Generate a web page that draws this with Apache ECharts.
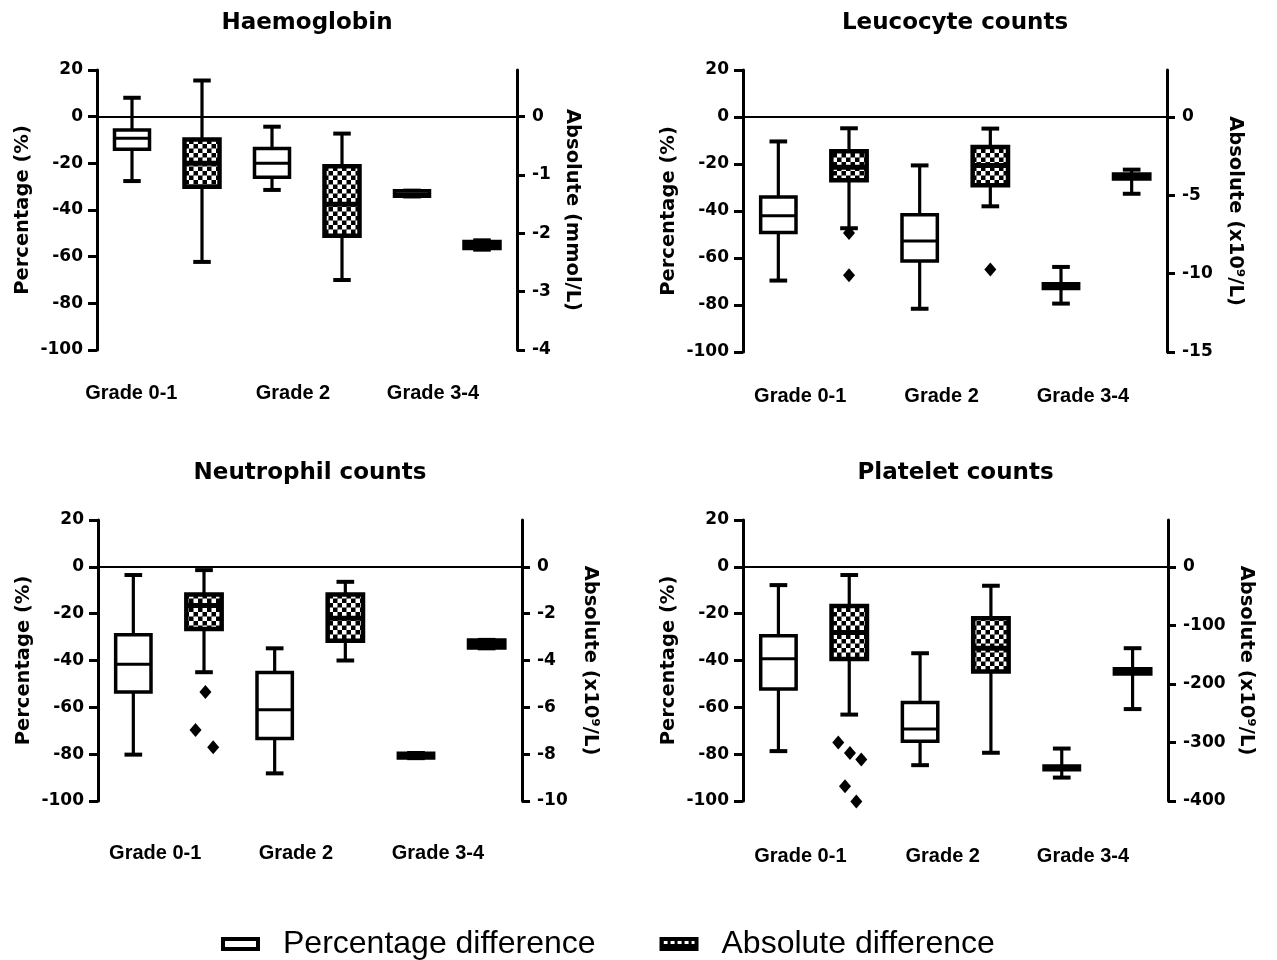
<!DOCTYPE html>
<html>
<head>
<meta charset="utf-8">
<title>Blood count differences</title>
<script src="https://cdn.jsdelivr.net/npm/echarts@6.0.0/dist/echarts.min.js"></script>
<style>
  html, body { margin: 0; padding: 0; background: #fff; }
  #container { width: 1277px; height: 960px; }
</style>
</head>
<body>
<div id="container"></div>
<script>
var grades = ['Grade 0-1', 'Grade 2', 'Grade 3-4'];
var pctName = 'Percentage difference';
var absName = 'Absolute difference';
var pctTicks = [-100, -80, -60, -40, -20, 0, 20];

// box data per grade: [min, Q1, median, Q3, max]
var hbPct = [[-27.6, -14, -9.3, -5.7, 8.1], [-31.4, -26, -20, -13.6, -4.3], [-34.2, -34.1, -33, -31.8, -31.7]];
var hbAbs = [[-2.49, -1.2, -0.8, -0.39, 0.62], [-2.8, -2.04, -1.5, -0.85, -0.29], [-2.28, -2.25, -2.2, -2.15, -2.12]];
var hbAbsTicks = [-4, -3, -2, -1, 0];

var lcPct = [[-69.6, -49.2, -42, -34, -10.4], [-81.6, -61.3, -52.8, -41.6, -20.6], [-79.4, -73, -72, -71, -63.8]];
var lcAbs = [[-7.1, -4.03, -3.2, -2.18, -0.72], [-5.7, -4.36, -3.1, -1.91, -0.74], [-4.9, -3.92, -3.8, -3.67, -3.36]];
var lcAbsTicks = [-15, -10, -5, 0];

var ntPct = [[-80.2, -53.5, -41.6, -29, -3.5], [-88.2, -73.3, -61, -45.1, -34.8], [-81.7, -81.6, -80.6, -79.6, -79.5]];
var ntAbs = [[-4.5, -2.65, -1.65, -1.18, -0.14], [-4.0, -3.16, -2.2, -1.18, -0.64], [-3.48, -3.45, -3.3, -3.15, -3.12]];
var ntAbsTicks = [-10, -8, -6, -4, -2, 0];

var plPct = [[-78.7, -52.2, -39.3, -29.4, -7.8], [-84.7, -74.5, -69.2, -57.9, -36.9], [-90, -86.7, -85.8, -85, -77.6]];
var plAbs = [[-252.4, -157.5, -112, -67, -14], [-317.6, -178.7, -139, -88, -32.3], [-243, -182, -179, -175, -139]];
var plAbsTicks = [-400, -300, -200, -100, 0];

// outliers of the absolute series: [grade index, value, horizontal jitter]
var lcOutliers = [[0, -7.4, 0], [0, -10.1, 0], [1, -9.74, 0]];
var ntOutliers = [[0, -5.35, 0.02], [0, -6.97, -0.12], [0, -7.7, 0.13]];
var plOutliers = [[0, -300, -0.155], [0, -318, 0.01], [0, -329, 0.17], [0, -375, -0.06], [0, -401, 0.1]];

var FONT = 'DejaVu Sans';

function checker(size, sq) {
  var c = document.createElement('canvas');
  c.width = size; c.height = size;
  var ctx = c.getContext('2d');
  ctx.fillStyle = '#000';
  ctx.fillRect(0, 0, size, size);
  ctx.fillStyle = '#fff';
  ctx.fillRect(0, 0, sq, sq);
  ctx.fillRect(sq, sq, sq, sq);
  return { type: 'pattern', image: c, repeat: 'repeat' };
}
var boxPattern = checker(9, 4.5);
var legendPattern = (function () {
  var c = document.createElement('canvas');
  c.width = 7; c.height = 8;
  var ctx = c.getContext('2d');
  ctx.fillStyle = '#000';
  ctx.fillRect(0, 0, 7, 8);
  ctx.fillStyle = '#fff';
  ctx.fillRect(2, 2, 4, 3);
  return { type: 'pattern', image: c, repeat: 'repeat' };
})();

var panels = [
  { title: 'Haemoglobin', pct: hbPct, abs: hbAbs, out: [], absTicks: hbAbsTicks, absMin: -4, absMax: 0.8,
    absAxis: 'Absolute (mmol/L)', grid: [97, 70, 420, 280], labelAt: [0.49, 2.8, 4.8], labelMargin: 33,
    leftGap: 64, rightGap: 45, titleTop: 12 },
  { title: 'Leucocyte counts', pct: lcPct, abs: lcAbs, out: lcOutliers, absTicks: lcAbsTicks, absMin: -15, absMax: 3,
    absAxis: 'Absolute (x10\u2079/L)', grid: [743, 70, 424, 282], labelAt: [0.81, 2.81, 4.81], labelMargin: 34,
    leftGap: 64, rightGap: 58, titleTop: 12 },
  { title: 'Neutrophil counts', pct: ntPct, abs: ntAbs, out: ntOutliers, absTicks: ntAbsTicks, absMin: -10, absMax: 2,
    absAxis: 'Absolute (x10\u2079/L)', grid: [98, 520, 424, 281], labelAt: [0.81, 2.8, 4.81], labelMargin: 42,
    leftGap: 64, rightGap: 58, titleTop: 462 },
  { title: 'Platelet counts', pct: plPct, abs: plAbs, out: plOutliers, absTicks: plAbsTicks, absMin: -400, absMax: 80,
    absAxis: 'Absolute (x10\u2079/L)', grid: [743, 520, 425, 281], labelAt: [0.81, 2.82, 4.8], labelMargin: 45,
    leftGap: 64, rightGap: 68, titleTop: 462 }
];

function boxRender(fill, border, medianWidth) {
  return function (params, api) {
    var x = api.value(0);
    var pMin = api.coord([x, api.value(1)]);
    var pQ1 = api.coord([x, api.value(2)]);
    var pMed = api.coord([x, api.value(3)]);
    var pQ3 = api.coord([x, api.value(4)]);
    var pMax = api.coord([x, api.value(5)]);
    var unit = api.size([1, 0])[0];
    var hb = unit * 0.25, hc = unit * 0.125;
    var cx = pMed[0];
    var cap = { stroke: '#000', lineWidth: 4 };
    return {
      type: 'group',
      children: [
        { type: 'line', shape: { x1: cx, y1: pMax[1], x2: cx, y2: pMin[1] }, style: { stroke: '#000', lineWidth: 3.2 } },
        { type: 'line', shape: { x1: cx - hc, y1: pMax[1], x2: cx + hc, y2: pMax[1] }, style: cap },
        { type: 'line', shape: { x1: cx - hc, y1: pMin[1], x2: cx + hc, y2: pMin[1] }, style: cap },
        { type: 'rect', shape: { x: cx - hb, y: pQ3[1], width: 2 * hb, height: pQ1[1] - pQ3[1] },
          style: { fill: fill, stroke: '#000', lineWidth: border } },
        { type: 'line', shape: { x1: cx - hb, y1: pMed[1], x2: cx + hb, y2: pMed[1] }, style: { stroke: '#000', lineWidth: medianWidth } }
      ]
    };
  };
}

var option = {
  backgroundColor: '#fff',
  animation: false,
  title: [],
  grid: [],
  xAxis: [],
  yAxis: [],
  series: [],
  legend: {
    left: 216,
    top: 923,
    itemWidth: 35,
    itemHeight: 10,
    itemGap: 64,
    selectedMode: false,
    textStyle: { fontFamily: 'Liberation Sans', fontSize: 32, color: '#000', padding: [0, 0, 0, 20] },
    data: [
      { name: pctName, icon: 'rect', itemStyle: { color: '#fff', borderColor: '#000', borderWidth: 4 } },
      { name: absName, icon: 'rect', itemStyle: { color: legendPattern, borderColor: '#000', borderWidth: 4 } }
    ]
  }
};

panels.forEach(function (p, i) {
  var g = p.grid;
  option.title.push({
    text: p.title,
    left: g[0] + g[2] / 2,
    top: p.titleTop,
    textAlign: 'center',
    padding: 0,
    textStyle: { fontFamily: FONT, fontWeight: 'bold', fontSize: 23, color: '#000' }
  });
  option.grid.push({ left: g[0], top: g[1], width: g[2], height: g[3], outerBoundsMode: 'none' });
  option.xAxis.push({
    gridIndex: i, type: 'value', min: 0, max: 6,
    axisLine: { show: false, onZero: false },
    axisTick: { show: false },
    splitLine: { show: false },
    axisLabel: {
      customValues: p.labelAt,
      margin: p.labelMargin,
      fontFamily: 'Liberation Sans', fontWeight: 'bold', fontSize: 20, color: '#000',
      formatter: function (v) {
        var best = 0;
        p.labelAt.forEach(function (a, k) { if (Math.abs(a - v) < Math.abs(p.labelAt[best] - v)) best = k; });
        return grades[best];
      }
    }
  });
  option.yAxis.push({
    gridIndex: i, type: 'value', position: 'left', min: -100, max: 20, interval: 20,
    name: 'Percentage (%)', nameLocation: 'middle', nameGap: p.leftGap,
    nameTextStyle: { fontFamily: FONT, fontWeight: 'bold', fontSize: 19.5, color: '#000' },
    axisLine: { show: true, onZero: false, lineStyle: { color: '#000', width: 3 } },
    axisTick: { show: true, length: 9, lineStyle: { color: '#000', width: 3 } },
    axisLabel: { margin: 14, fontFamily: FONT, fontWeight: 'bold', fontSize: 17, color: '#000', customValues: pctTicks },
    splitLine: { show: false }
  });
  option.yAxis.push({
    gridIndex: i, type: 'value', position: 'right', min: p.absMin, max: p.absMax,
    name: p.absAxis, nameLocation: 'middle', nameGap: p.rightGap, nameRotate: -90,
    nameTextStyle: { fontFamily: FONT, fontWeight: 'bold', fontSize: 19.5, color: '#000' },
    axisLine: { show: true, onZero: false, lineStyle: { color: '#000', width: 3 } },
    axisTick: { show: true, length: 8, customValues: p.absTicks, lineStyle: { color: '#000', width: 3 } },
    axisLabel: { margin: 15, fontFamily: FONT, fontWeight: 'bold', fontSize: 17, color: '#000', customValues: p.absTicks },
    splitLine: { show: false }
  });

  var pctData = p.pct.map(function (b, k) { return [k * 2 + 0.5].concat(b); });
  var absData = p.abs.map(function (b, k) { return [k * 2 + 1.5].concat(b); });

  option.series.push({
    name: pctName, type: 'custom', xAxisIndex: i, yAxisIndex: i * 2,
    renderItem: boxRender('#fff', 3.5, 3),
    encode: { x: 0, y: [1, 2, 3, 4, 5] },
    itemStyle: { color: '#fff' },
    data: pctData,
    markLine: {
      silent: true, symbol: 'none', label: { show: false },
      lineStyle: { color: '#000', width: 2, type: 'solid', opacity: 1 },
      data: [{ yAxis: 0 }]
    }
  });
  option.series.push({
    name: absName, type: 'custom', xAxisIndex: i, yAxisIndex: i * 2 + 1,
    renderItem: boxRender(boxPattern, 4.5, 5),
    encode: { x: 0, y: [1, 2, 3, 4, 5] },
    itemStyle: { color: '#000' },
    data: absData
  });
  if (p.out.length) {
    option.series.push({
      name: 'Outliers', type: 'scatter', xAxisIndex: i, yAxisIndex: i * 2 + 1,
      symbol: 'diamond', symbolSize: [12, 14], clip: false,
      itemStyle: { color: '#000', opacity: 1 },
      data: p.out.map(function (o) { return [o[0] * 2 + 1.5 + o[2], o[1]]; })
    });
  }
});

var myChart = echarts.init(document.getElementById('container'), null, { renderer: 'canvas' });
myChart.setOption(option);
window.addEventListener('resize', myChart.resize);
</script>
</body>
</html>
